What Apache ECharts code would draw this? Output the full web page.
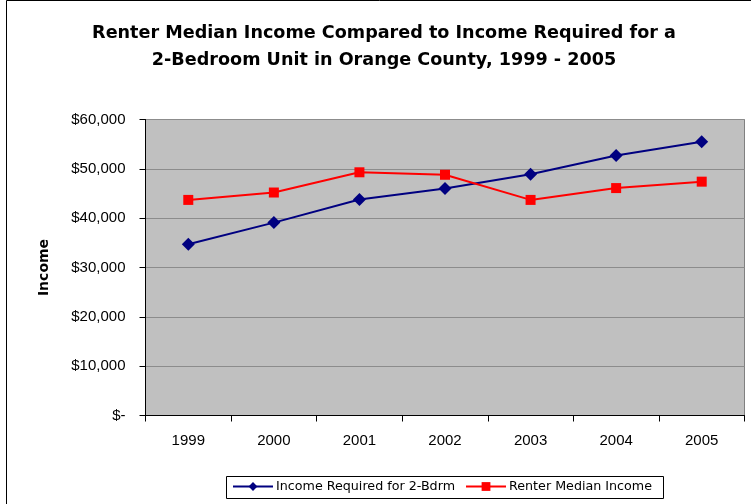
<!DOCTYPE html>
<html>
<head>
<meta charset="utf-8">
<script src="https://cdn.jsdelivr.net/npm/echarts@6/dist/echarts.min.js"></script>
<style>
  html, body { margin: 0; padding: 0; background: #fff; }
  #chart { width: 751px; height: 504px; }
</style>
</head>
<body>
<div id="chart"></div>
<script>
// Income data for Orange County, 1999 - 2005
const years = ['1999', '2000', '2001', '2002', '2003', '2004', '2005'];
const requiredIncome = [34700, 39100, 43800, 46000, 48900, 52700, 55500];
const renterMedianIncome = [43700, 45200, 49300, 48800, 43700, 46100, 47400];
const seriesNames = ['Income Required for 2-Bdrm', 'Renter Median Income'];
const titleLines = ['Renter Median Income Compared to Income Required for a', '2-Bedroom Unit in Orange County, 1999 - 2005'];

const arial = 'Arial, "Liberation Sans", sans-serif';
const wide = '"DejaVu Sans", Verdana, sans-serif';

function money(v) {
  if (v === 0) return '$-';
  return '$' + v.toLocaleString('en-US');
}

const chart = echarts.init(document.getElementById('chart'));
chart.setOption({
  animation: false,
  backgroundColor: '#fff',
  title: {
    text: titleLines.join('\n'),
    left: 379,
    textAlign: 'center',
    top: 15,
    textStyle: { fontFamily: wide, fontSize: 17.6, fontWeight: 'bold', color: '#000', lineHeight: 27 }
  },
  graphic: [
    {
      // outer chart frame
      type: 'rect',
      shape: { x: 6.5, y: 0.5, width: 800, height: 600 },
      style: { fill: 'none', stroke: '#000', lineWidth: 1 },
      silent: true,
      z: -1
    },
    {
      // legend frame
      type: 'rect',
      shape: { x: 226.5, y: 476.5, width: 437, height: 22 },
      style: { fill: '#fff', stroke: '#000', lineWidth: 1 },
      silent: true,
      z: 0
    }
  ],
  legend: {
    data: seriesNames,
    left: 227,
    top: 480,
    padding: [0, 0, 0, 5],
    itemWidth: 40,
    itemHeight: 11,
    itemGap: 10,
    textStyle: { fontFamily: wide, fontSize: 12.7, color: '#000', padding: [0, 0, 0, -2] },
    z: 5
  },
  grid: {
    left: 145.5,
    right: 6.5,
    top: 119.5,
    bottom: 88.5,
    show: true,
    backgroundColor: '#C0C0C0',
    borderColor: '#808080',
    borderWidth: 1
  },
  xAxis: {
    type: 'category',
    data: years,
    boundaryGap: true,
    axisLine: { lineStyle: { color: '#000', width: 1 } },
    axisTick: { show: true, length: 6, lineStyle: { color: '#000' } },
    axisLabel: { fontFamily: arial, fontSize: 15, color: '#000', margin: 18 }
  },
  yAxis: {
    type: 'value',
    min: 0,
    max: 60000,
    interval: 10000,
    name: 'Income',
    nameLocation: 'middle',
    nameGap: 94,
    nameRotate: 90,
    nameTextStyle: { fontFamily: wide, fontSize: 14, fontWeight: 'bold', color: '#000' },
    axisLine: { show: true, lineStyle: { color: '#000', width: 1 } },
    axisTick: { show: true, length: 6, lineStyle: { color: '#000' } },
    axisLabel: { fontFamily: arial, fontSize: 15, color: '#000', margin: 20, formatter: money },
    splitLine: { lineStyle: { color: '#8C8C8C', width: 1 } }
  },
  series: [
    {
      name: seriesNames[0],
      type: 'line',
      data: requiredIncome,
      symbol: 'diamond',
      symbolSize: 13,
      lineStyle: { color: '#000080', width: 2 },
      itemStyle: { color: '#000080' }
    },
    {
      name: seriesNames[1],
      type: 'line',
      data: renterMedianIncome,
      symbol: 'rect',
      symbolSize: 10,
      lineStyle: { color: '#FF0000', width: 2 },
      itemStyle: { color: '#FF0000' }
    }
  ]
});
</script>
</body>
</html>
